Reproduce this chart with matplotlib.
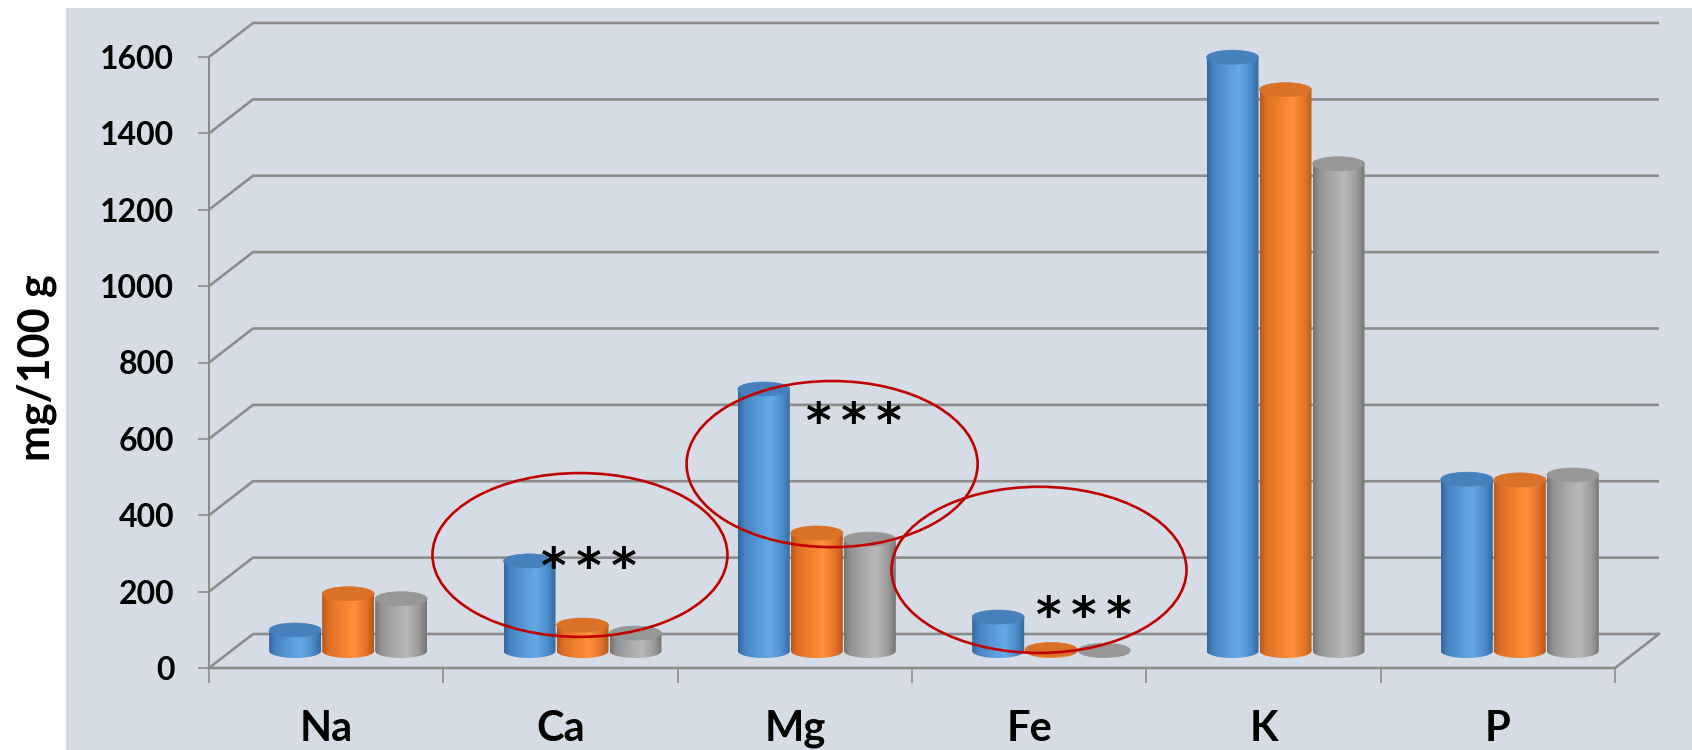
import numpy as np
import matplotlib
matplotlib.use("Agg")
import matplotlib.pyplot as plt
from matplotlib.patches import Rectangle, Ellipse, PathPatch
from matplotlib.path import Path
from matplotlib.colors import LinearSegmentedColormap

# ---- data -------------------------------------------------------------
categories = ["Na", "Ca", "Mg", "Fe", "K", "P"]
series_blue = [55, 236, 686, 89, 1555, 450]
series_orange = [150, 68, 309, 4, 1470, 448]
series_gray = [137, 47, 293, 2, 1276, 461]
y_ticks = [0, 200, 400, 600, 800, 1000, 1200, 1400, 1600]
y_label = "mg/100 g"
marked = ["Ca", "Mg", "Fe"]
mark_text = "*\u2009*\u2009*"

# ---- figure geometry (pixels) -----------------------------------------
W, H, DPI = 1692, 750, 100
AX_L, AX_R, AX_B, AX_T = 209, 1615, 668, 57        # front plane of the plot
DEPTH_X, DEPTH_Y = 44, 34                            # oblique depth offset
BAR_W_PX, BAR_STEP_PX, CAP_PX = 52, 53, 7

fig = plt.figure(figsize=(W / DPI, H / DPI), dpi=DPI)
fig.patch.set_facecolor("white")
fig.add_artist(Rectangle((66 / W, 0), 1 - 66 / W, 1 - 8 / H,
                         transform=fig.transFigure, facecolor="#D6DCE5",
                         edgecolor="none", zorder=0))

ax = fig.add_axes([AX_L / W, (H - AX_B) / H, (AX_R - AX_L) / W, (AX_B - AX_T) / H])
ax.patch.set_visible(False)
ncat = len(categories)
ymax = y_ticks[-1]
ax.set_xlim(0, ncat)
ax.set_ylim(0, ymax)

px_x = (AX_R - AX_L) / ncat          # pixels per category
px_y = (AX_B - AX_T) / ymax          # pixels per value unit
dx, dy = DEPTH_X / px_x, DEPTH_Y / px_y
bar_w = BAR_W_PX / px_x
step = BAR_STEP_PX / px_x
cap_h = CAP_PX / px_y

grid_c = "#8C8C8C"
# back wall gridlines with their slanted side-wall segment
for v in y_ticks:
    ax.plot([0, dx, ncat + dx], [v, v + dy, v + dy], color=grid_c, lw=1.9,
            clip_on=False, zorder=1, solid_capstyle="butt")
# front axes and floor edge
ax.plot([0, 0], [0, ymax], color=grid_c, lw=1.5, clip_on=False, zorder=1)
ax.plot([0, ncat, ncat + dx], [0, 0, dy], color=grid_c, lw=1.9, clip_on=False, zorder=1)
for s in ax.spines.values():
    s.set_visible(False)

# ticks and labels
lab_font = dict(family="Lato", weight="bold")
ax.set_yticks(y_ticks)
ax.set_yticklabels([str(t) for t in y_ticks], fontsize=23, **lab_font)
ax.tick_params(axis="y", length=8, width=1.2, color=grid_c, pad=17)
ax.set_xticks(np.arange(ncat) + 0.5)
ax.set_xticklabels(categories, fontsize=30, **lab_font)
ax.set_xticks(np.arange(ncat + 1), minor=True)
ax.tick_params(axis="x", which="major", length=0, pad=30)
ax.tick_params(axis="x", which="minor", length=11, width=1.2, color=grid_c)
fig.text(37 / W, 1 - 368 / H, y_label, rotation=90, ha="center", va="center",
         fontsize=31, **lab_font)

# ---- cylinders ------------------------------------------------------------
styles = [
    (series_blue,
     [(0, "#35659A"), (0.12, "#4683C2"), (0.45, "#5B9FDE"), (0.62, "#64A9E6"),
      (0.85, "#4B8BC9"), (1, "#36689E")], "#4681BE"),
    (series_orange,
     [(0, "#B8571A"), (0.12, "#DD7027"), (0.45, "#F7842F"), (0.62, "#FF8F3A"),
      (0.85, "#E27429"), (1, "#B65719")], "#D97226"),
    (series_gray,
     [(0, "#727272"), (0.12, "#939393"), (0.45, "#AEAEAE"), (0.62, "#B8B8B8"),
      (0.85, "#9A9A9A"), (1, "#737373")], "#979797"),
]
grad = np.linspace(0, 1, 256).reshape(1, -1)
t = np.linspace(np.pi, 2 * np.pi, 60)

for k, (vals, stops, top_c) in enumerate(styles):
    cmap = LinearSegmentedColormap.from_list(f"cyl{k}", stops)
    for i, v in enumerate(vals):
        xc = i + 0.5 + dx / 2 + (k - 1) * step
        x0, x1 = xc - bar_w / 2, xc + bar_w / 2
        yb = dy / 2
        yt = v + dy / 2
        # body outline: vertical sides plus the lower half of the base ellipse
        xs = np.concatenate([[x0], xc + bar_w / 2 * np.cos(t), [x1]])
        ys = np.concatenate([[yt], yb + cap_h * np.sin(t), [yt]])
        verts = np.column_stack([xs, ys])
        verts = np.vstack([verts, verts[:1]])
        codes = [Path.MOVETO] + [Path.LINETO] * (len(verts) - 2) + [Path.CLOSEPOLY]
        body = PathPatch(Path(verts, codes), transform=ax.transData,
                         facecolor="none", edgecolor="none")
        ax.imshow(grad, cmap=cmap, extent=[x0, x1, yb - cap_h, yt],
                  aspect="auto", interpolation="bilinear", clip_path=body,
                  zorder=3 + k * 0.1 + i * 0.01)
        ax.add_patch(Ellipse((xc, yt), bar_w, 2 * cap_h, facecolor=top_c,
                             edgecolor=top_c, lw=0.5, clip_on=False,
                             zorder=3.05 + k * 0.1 + i * 0.01))

ax.set_xlim(0, ncat)
ax.set_ylim(0, ymax)

# ---- significance marks -----------------------------------------------
ring_specs = {  # centre (category units, value), width, height, text position
    "Ca": ((1.583, 296), 1.259, 429, (1.622, 258)),
    "Mg": ((2.659, 534), 1.242, 435, (2.752, 638)),
    "Fe": ((3.542, 257), 1.259, 435, (3.734, 130)),
}
for name in marked:
    centre, w, h, txt_xy = ring_specs[name]
    ax.add_patch(Ellipse(centre, w, h, facecolor="none", edgecolor="#C00000",
                         lw=1.9, clip_on=False, zorder=6))
    ax.text(txt_xy[0], txt_xy[1], mark_text, ha="center", va="center",
            fontsize=35, fontweight="bold", family="DejaVu Sans",
            zorder=7, clip_on=False)

fig.savefig("out.png", dpi=DPI)
